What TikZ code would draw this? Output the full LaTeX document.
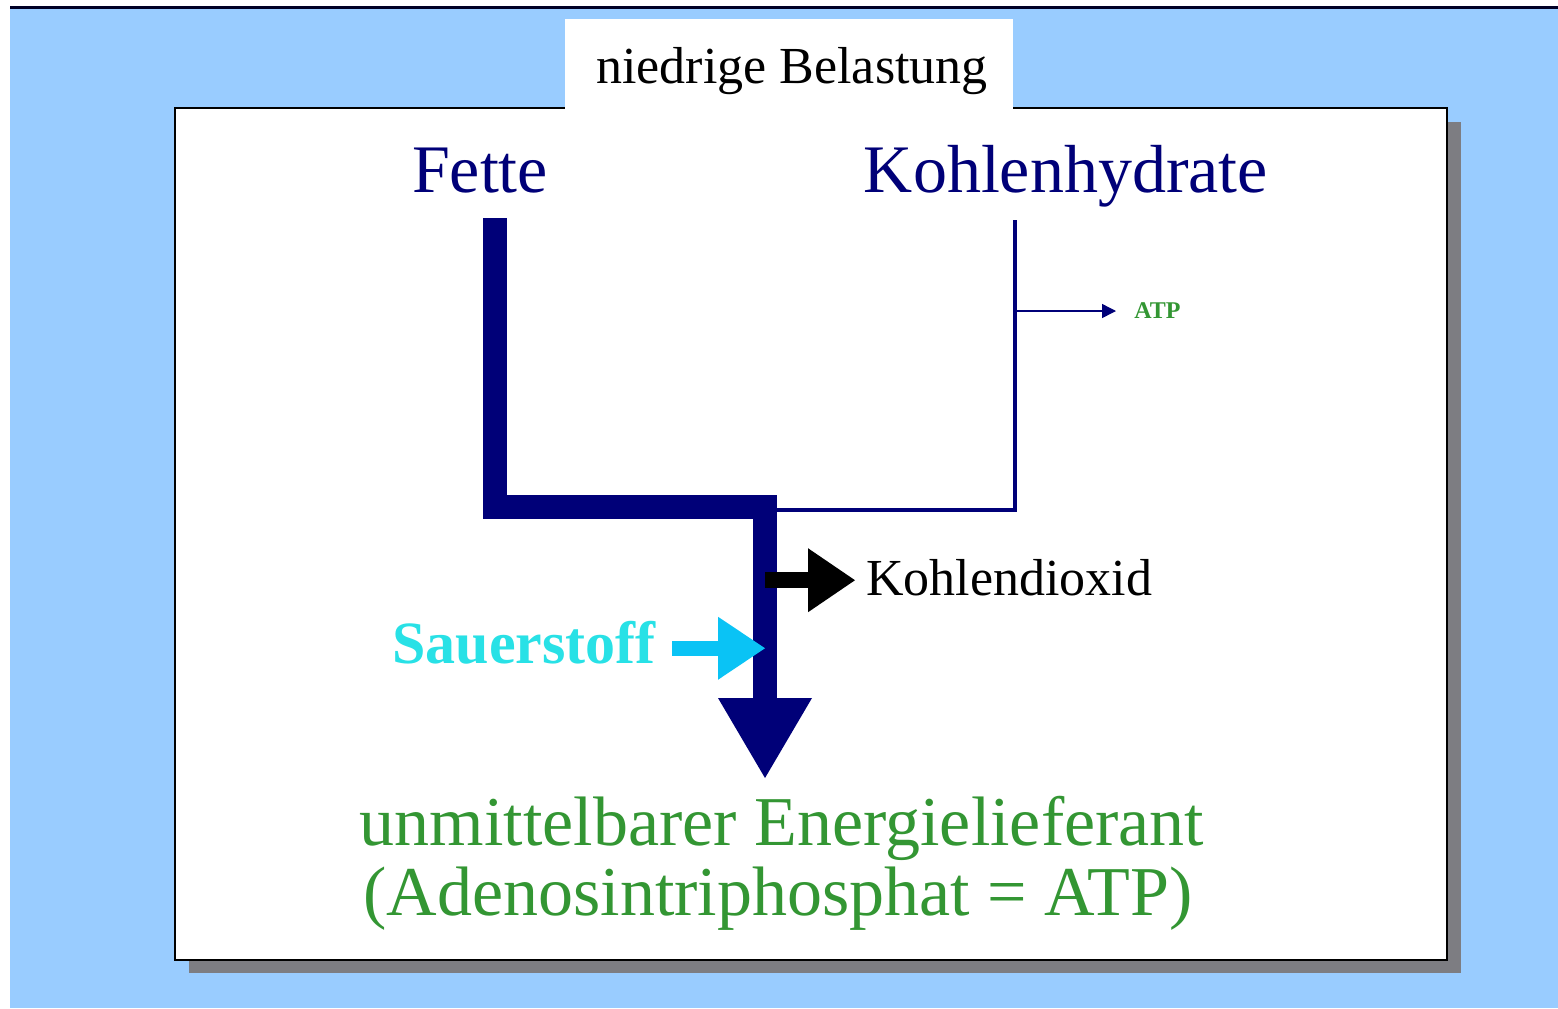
\documentclass[tikz,border=0pt]{standalone}
\usepackage{fontspec}
\setmainfont{Liberation Serif}
\usetikzlibrary{arrows.meta,calc}
\definecolor{hblau}{RGB}{153,204,255}
\definecolor{navy}{RGB}{0,0,120}
\definecolor{gruen}{RGB}{51,150,51}
\definecolor{sauer}{RGB}{40,225,230}
\definecolor{sauerpfeil}{RGB}{10,195,245}
\definecolor{schatten}{RGB}{125,125,130}

\begin{document}
\begin{tikzpicture}[
      x=0.5pt, y=-0.5pt,
      every node/.append style={inner sep=0pt},
      titel/.style={font=\fontsize{26}{30}\selectfont},
      stoff/.style={font=\fontsize{34}{40}\selectfont, text=navy},
      energie/.style={font=\fontsize{35}{40}\selectfont, text=gruen},
      fett/.style={navy, line width=12pt, line join=miter,
        -{Triangle[width=47pt, length=40pt, line width=0pt]}},
      duenn/.style={navy, line width=2pt, line join=miter},
      co2pfeil/.style={black, line width=8pt,
        -{Triangle[width=32pt, length=23.5pt, line width=0pt]}},
      o2pfeil/.style={sauerpfeil, line width=7.5pt,
        -{Triangle[width=31.5pt, length=23.5pt, line width=0pt]}}
    ]
      \useasboundingbox (0,0) rectangle (1558,1008);

      % Hintergrund und Kasten
      \fill[white] (0,0) rectangle (1558,1008);
      \fill[hblau] (10,9) rectangle (1558,1008);
      \fill[black!85!blue] (10,6) rectangle (1558,9);
      \fill[schatten] (189,122) rectangle (1461,973);
      \draw[black, line width=1.2pt, fill=white] (175,108) rectangle (1447,960);
      \fill[white] (565,19) rectangle (1013,109);

      \node[titel, anchor=base] (belastung) at (792,83) {niedrige Belastung};
      \node[stoff, anchor=base] (fette) at (480,192) {Fette};
      \node[stoff, anchor=base] (kh) at (1066,192) {Kohlenhydrate};
      \node[font=\bfseries\fontsize{12}{14}\selectfont, text=gruen, anchor=west] (atp) at (1134,311) {ATP};
      \node[titel, anchor=base west] (co2) at (866,595) {Kohlendioxid};
      \node[font=\bfseries\fontsize{30}{36}\selectfont, text=sauer, anchor=base east] (o2) at (656,663) {Sauerstoff};
      \node[energie, anchor=base] (energie) at (782,845) {unmittelbarer Energielieferant};
      \node[energie, anchor=base] (atpname) at (778,915) {(Adenosintriphosphat = ATP)};

      \coordinate (fstart) at (495,218);
      \coordinate (kstart) at (1015,220);
      \coordinate (mitte) at (765,507);
      \coordinate (kmitte) at (777,510);
      \coordinate (ziel) at (765,778);

      % Kohlenhydrate
      \draw[duenn] (kstart) |- (kmitte);
      \draw[navy, line width=0.7pt, -{Triangle[width=7pt, length=7pt]}]
        (kstart |- atp.west) -- ([xshift=-9pt]atp.west);

      % Fette
      \draw[fett] (fstart) |- (mitte) -- (ziel);

      \draw[co2pfeil] ([yshift=-1.5pt]mitte |- co2.center) -- ([xshift=-5.5pt, yshift=-1.5pt]co2.west);
      \draw[o2pfeil] ([xshift=8pt, yshift=-3pt]o2.east) -- ([yshift=-3pt]mitte |- o2.east);
    \end{tikzpicture}
\end{document}
